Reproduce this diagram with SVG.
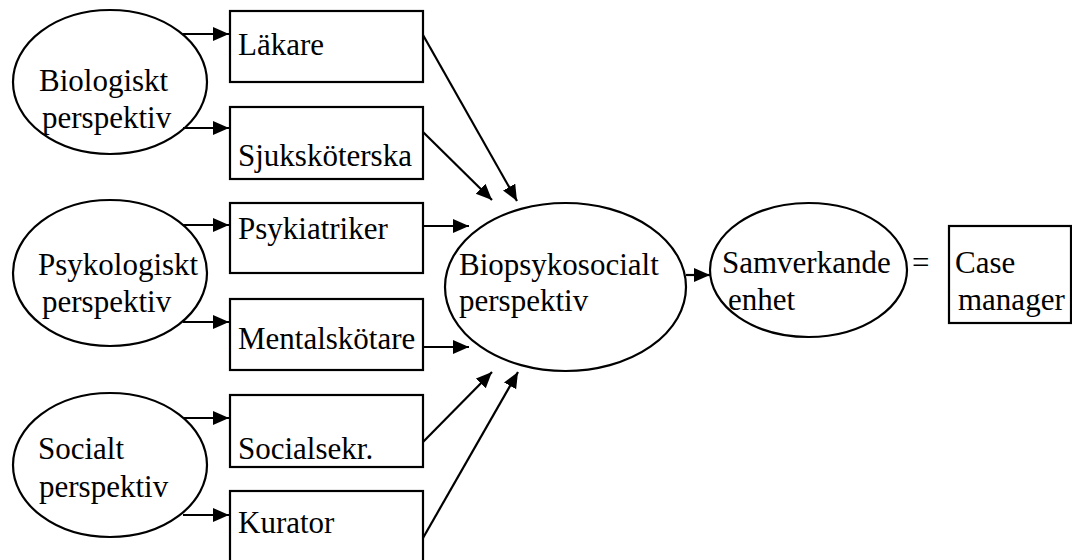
<svg xmlns="http://www.w3.org/2000/svg" width="1072" height="560" viewBox="0 0 1072 560">
  <style>
    .shape { fill: #ffffff; stroke: #000000; stroke-width: 2.2; }
    .label { font-family: "Liberation Serif", "Times New Roman", serif; font-size: 31px; fill: #000000; }
    .conn { stroke: #000000; stroke-width: 2.2; fill: none; marker-end: url(#head); }
  </style>
  <defs>
    <marker id="head" markerUnits="userSpaceOnUse" markerWidth="18" markerHeight="16" refX="16" refY="7" orient="auto">
      <path d="M0,0 L16,7 L0,14 Z" fill="#000000"/>
    </marker>
  </defs>
  <rect width="1072" height="560" fill="#ffffff"/>

  <!-- perspectives -->
  <g id="bio">
    <ellipse class="shape" cx="110" cy="82" rx="97" ry="72"/>
    <text class="label" x="39" y="91">Biologiskt</text>
    <text class="label" x="42" y="128">perspektiv</text>
  </g>
  <g id="psyk">
    <ellipse class="shape" cx="110" cy="273" rx="97" ry="73"/>
    <text class="label" x="38" y="275">Psykologiskt</text>
    <text class="label" x="42" y="312">perspektiv</text>
  </g>
  <g id="social">
    <ellipse class="shape" cx="110" cy="465" rx="97" ry="72"/>
    <text class="label" x="38" y="459">Socialt</text>
    <text class="label" x="39" y="497">perspektiv</text>
  </g>

  <!-- professions -->
  <g id="lakare">
    <rect class="shape" x="230" y="11" width="193" height="71"/>
    <text class="label" x="238" y="55">Läkare</text>
  </g>
  <g id="sjukskoterska">
    <rect class="shape" x="230" y="107" width="193" height="72"/>
    <text class="label" x="238" y="166">Sjuksköterska</text>
  </g>
  <g id="psykiatriker">
    <rect class="shape" x="230" y="203" width="193" height="70"/>
    <text class="label" x="238" y="239">Psykiatriker</text>
  </g>
  <g id="mentalskotare">
    <rect class="shape" x="230" y="299" width="193" height="71"/>
    <text class="label" x="238" y="349">Mentalskötare</text>
  </g>
  <g id="socialsekr">
    <rect class="shape" x="230" y="395" width="193" height="72"/>
    <text class="label" x="238" y="459">Socialsekr.</text>
  </g>
  <g id="kurator">
    <rect class="shape" x="230" y="491" width="193" height="80"/>
    <text class="label" x="238" y="533">Kurator</text>
  </g>

  <!-- integrated view -->
  <g id="biopsykosocialt">
    <ellipse class="shape" cx="565.5" cy="287" rx="120.5" ry="84"/>
    <text class="label" x="459" y="275">Biopsykosocialt</text>
    <text class="label" x="459" y="311">perspektiv</text>
  </g>
  <g id="samverkande">
    <ellipse class="shape" cx="808.5" cy="270" rx="98.5" ry="67"/>
    <text class="label" x="722" y="273">Samverkande</text>
    <text class="label" x="728" y="310">enhet</text>
  </g>
  <g id="equals">
    <text class="label" x="912" y="273">=</text>
  </g>
  <g id="casemanager">
    <rect class="shape" x="949" y="226" width="122" height="97"/>
    <text class="label" x="955" y="273">Case</text>
    <text class="label" x="958" y="310">manager</text>
  </g>

  <!-- connectors -->
  <g id="connectors">
    <line class="conn" x1="183" y1="34" x2="229" y2="34"/>
    <line class="conn" x1="183" y1="128" x2="229" y2="128"/>
    <line class="conn" x1="183" y1="225" x2="229" y2="225"/>
    <line class="conn" x1="183" y1="322" x2="229" y2="322"/>
    <line class="conn" x1="183" y1="418" x2="229" y2="418"/>
    <line class="conn" x1="183" y1="515" x2="229" y2="515"/>

    <line class="conn" x1="423" y1="35" x2="517" y2="201"/>
    <line class="conn" x1="423" y1="132" x2="492" y2="200"/>
    <line class="conn" x1="423" y1="226" x2="469" y2="226"/>
    <line class="conn" x1="423" y1="347" x2="469" y2="347"/>
    <line class="conn" x1="423" y1="442" x2="492" y2="372"/>
    <line class="conn" x1="423" y1="538" x2="518" y2="372"/>

    <line class="conn" x1="686" y1="275" x2="710" y2="275"/>
  </g>
</svg>
